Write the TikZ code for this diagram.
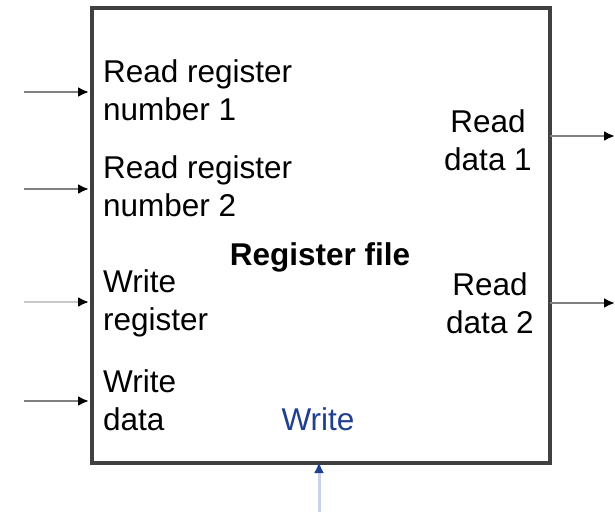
\documentclass[tikz,border=0pt]{standalone}
\usepackage{fontspec}
\setmainfont{Liberation Sans}
\usetikzlibrary{arrows.meta}
\definecolor{wblue}{HTML}{1F3F8F}
\definecolor{wline}{HTML}{C8D2EC}
\definecolor{edge}{HTML}{404040}
\begin{document}
\begin{tikzpicture}[x=1pt,y=-1pt,
  lbl/.style={inner sep=0pt,font=\fontsize{31.5}{38}\selectfont},
  inarrow/.style={draw=black!50,line width=2.8pt,-{Latex[length=11pt,width=10pt,black]}},
  outarrow/.style={draw=black!50,line width=2.8pt,-{Latex[length=11pt,width=10pt,black]}}]
\useasboundingbox (0,0) rectangle (615,512);
\fill[white] (0,0) rectangle (615,512);
% box
\node[draw=edge,line width=4pt,minimum width=458pt,minimum height=455pt,inner sep=0pt,anchor=north west] (rf) at (90,6) {};
% connector end points
\coordinate (i1s) at (24,92);  \coordinate (i1e) at (89,92);
\coordinate (i2s) at (24,189); \coordinate (i2e) at (89,189);
\coordinate (i3s) at (24,302); \coordinate (i3e) at (89,302);
\coordinate (i4s) at (24,401); \coordinate (i4e) at (89,401);
\coordinate (o1s) at (550,136); \coordinate (o1e) at (615,136);
\coordinate (o2s) at (550,303); \coordinate (o2e) at (615,303);
\coordinate (ws) at (319,512); \coordinate (we) at (319,462);
\draw[inarrow] (i1s) -- (i1e);
\draw[inarrow] (i2s) -- (i2e);
\draw[inarrow,draw=black!22] (i3s) -- (i3e);
\draw[inarrow] (i4s) -- (i4e);
\draw[outarrow] (o1s) -- (o1e);
\draw[outarrow] (o2s) -- (o2e);
\draw[draw=wline,line width=3pt,-{Latex[length=11pt,width=10pt,wblue]}] (ws) -- (we);
% labels (base anchor = baseline of last line)
\node[lbl,anchor=base west,align=left] (rr1) at (103,120) {Read register\\number 1};
\node[lbl,anchor=base west,align=left] (rr2) at (103,216) {Read register\\number 2};
\node[lbl,anchor=base west,align=left] (wr) at (103,330) {Write\\register};
\node[lbl,anchor=base west,align=left] (wd) at (103,430) {Write\\data};
\node[lbl,anchor=base,align=center] (rd1) at (488,170) {Read\\data 1};
\node[lbl,anchor=base,align=center] (rd2) at (490,333) {Read\\data 2};
\node[lbl,anchor=base,font=\fontsize{31.5}{38}\selectfont\bfseries] (title) at (320,265) {Register file};
\node[lbl,anchor=base,text=wblue] (wlab) at (318,430) {Write};
\end{tikzpicture}
\end{document}
